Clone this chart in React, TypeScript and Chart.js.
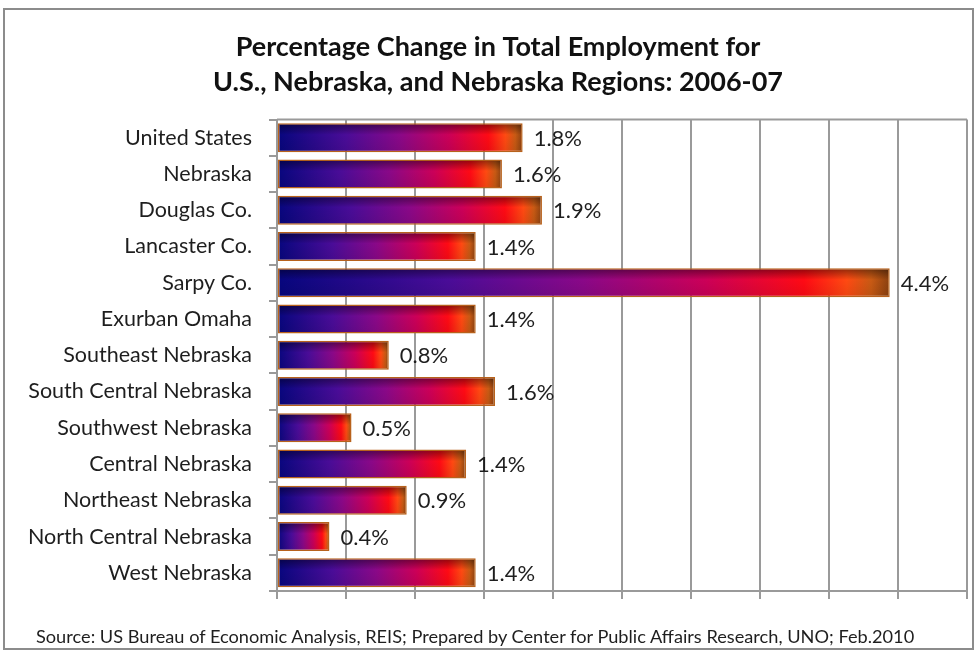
import React, { useEffect, useRef } from "react";
import { Chart, registerables } from "chart.js";

Chart.register(...registerables);

const titleLines = [
  "Percentage Change in Total Employment for",
  "U.S., Nebraska, and Nebraska Regions: 2006-07",
];

const sourceNote =
  "Source: US Bureau of Economic Analysis, REIS; Prepared by Center for Public Affairs Research, UNO; Feb.2010";

const categories = [
  "United States",
  "Nebraska",
  "Douglas Co.",
  "Lancaster Co.",
  "Sarpy Co.",
  "Exurban Omaha",
  "Southeast Nebraska",
  "South Central Nebraska",
  "Southwest Nebraska",
  "Central Nebraska",
  "Northeast Nebraska",
  "North Central Nebraska",
  "West Nebraska",
];

const employmentChange = [1.78, 1.63, 1.92, 1.44, 4.44, 1.44, 0.81, 1.58, 0.54, 1.37, 0.94, 0.38, 1.44];

const valueLabels = ["1.8%", "1.6%", "1.9%", "1.4%", "4.4%", "1.4%", "0.8%", "1.6%", "0.5%", "1.4%", "0.9%", "0.4%", "1.4%"];

const xMin = 0;
const xMax = 5;
const xStep = 0.5;

const FONT = "Lato, 'Open Sans', sans-serif";
const GRID = "#9a9a9a";

const barGradient = (c: any) => {
  const chart = c.chart;
  const xs = chart.scales && chart.scales.x;
  if (!chart.chartArea || !xs || c.type !== "data") return "#7a0a8a";
  const x0 = xs.getPixelForValue(0);
  const x1 = xs.getPixelForValue(c.raw);
  if (!isFinite(x0) || !isFinite(x1) || x1 - x0 < 1) return "#7a0a8a";
  const g = chart.ctx.createLinearGradient(x0, 0, x1, 0);
  g.addColorStop(0, "#06067e");
  g.addColorStop(0.28, "#4a0c98");
  g.addColorStop(0.5, "#8a0888");
  g.addColorStop(0.7, "#cc0058");
  g.addColorStop(0.86, "#ff0a14");
  g.addColorStop(0.93, "#ff4a12");
  g.addColorStop(0.97, "#c85a14");
  g.addColorStop(1, "#8a4010");
  return g;
};

const barShade = {
  id: "barShade",
  afterDatasetsDraw(chart: any) {
    const ctx = chart.ctx;
    const meta = chart.getDatasetMeta(0);
    meta.data.forEach((el: any) => {
      const { x, y, base, height } = el.getProps(["x", "y", "base", "height"], true);
      const top = y - height / 2;
      const bw = 1.5;
      const g = ctx.createLinearGradient(0, top, 0, top + height);
      g.addColorStop(0, "rgba(0,0,0,0.45)");
      g.addColorStop(0.4, "rgba(0,0,0,0)");
      g.addColorStop(1, "rgba(0,0,0,0.08)");
      ctx.save();
      ctx.fillStyle = g;
      ctx.fillRect(base + bw, top + bw, x - base - 2 * bw, height - 2 * bw);
      ctx.restore();
    });
  },
};

const valueLabelPlugin = {
  id: "valueLabels",
  afterDatasetsDraw(chart: any) {
    const ctx = chart.ctx;
    const meta = chart.getDatasetMeta(0);
    ctx.save();
    ctx.font = `22px ${FONT}`;
    ctx.fillStyle = "#1e1e1e";
    ctx.textAlign = "left";
    ctx.textBaseline = "middle";
    meta.data.forEach((el: any, i: number) => {
      const { x, y } = el.getProps(["x", "y"], true);
      ctx.fillText(valueLabels[i], x + 11, y + 1);
    });
    ctx.restore();
  },
};

const plotFrame = {
  id: "plotFrame",
  afterDraw(chart: any) {
    const { ctx, chartArea } = chart;
    ctx.save();
    ctx.strokeStyle = GRID;
    ctx.lineWidth = 2;
    ctx.beginPath();
    ctx.moveTo(chartArea.left, chartArea.top);
    ctx.lineTo(chartArea.right, chartArea.top);
    ctx.stroke();
    ctx.restore();
  },
};

export default function App() {
  const ref = useRef<HTMLCanvasElement | null>(null);

  useEffect(() => {
    if (!ref.current) return;
    const chart = new Chart(ref.current, {
      type: "bar",
      data: {
        labels: categories,
        datasets: [
          {
            data: employmentChange,
            backgroundColor: barGradient,
            borderColor: "#b8621c",
            borderWidth: 1.5,
            borderSkipped: false,
            categoryPercentage: 1,
            barPercentage: 0.8,
          },
        ],
      },
      options: {
        indexAxis: "y",
        responsive: false,
        animation: false,
        devicePixelRatio: 1,
        layout: { padding: { left: 29, right: 12, top: 12, bottom: 57 } },
        plugins: {
          legend: { display: false },
          tooltip: { enabled: false },
          title: {
            display: true,
            text: titleLines,
            color: "#111",
            font: { family: FONT, size: 27, weight: "bold", lineHeight: 35 / 27 },
            padding: { top: 17.5, bottom: 20 },
          },
        },
        scales: {
          x: {
            type: "linear",
            min: xMin,
            max: xMax,
            ticks: { display: false, stepSize: xStep },
            grid: { color: GRID, lineWidth: 2, drawTicks: true, tickLength: 8 },
            border: { display: true, color: GRID, width: 2 },
            afterFit: (s: any) => {
              s.height = 8;
            },
          },
          y: {
            type: "category",
            ticks: { color: "#1e1e1e", font: { family: FONT, size: 21.5 }, padding: 17 },
            grid: { offset: true, drawOnChartArea: false, drawTicks: true, tickLength: 8, color: GRID, lineWidth: 2 },
            border: { display: true, color: GRID, width: 2 },
            afterFit: (s: any) => {
              s.width = 248;
            },
          },
        },
      },
      plugins: [barShade, valueLabelPlugin, plotFrame],
    } as any);
    return () => chart.destroy();
  }, []);

  return (
    <div style={{ position: "fixed", left: 0, top: 0, width: 979, height: 656, background: "#fff" }}>
      <div
        style={{
          position: "absolute",
          left: 3,
          top: 8,
          width: 971,
          height: 642,
          border: "2px solid #8c8c8c",
          boxSizing: "border-box",
        }}
      />
      <canvas ref={ref} width={979} height={656} style={{ position: "absolute", left: 0, top: 0 }} />
      <div
        style={{
          position: "absolute",
          left: 36,
          top: 624,
          fontFamily: FONT,
          fontSize: 18.2,
          color: "#1e1e1e",
          whiteSpace: "nowrap",
          lineHeight: "24px",
        }}
      >
        {sourceNote}
      </div>
    </div>
  );
}
